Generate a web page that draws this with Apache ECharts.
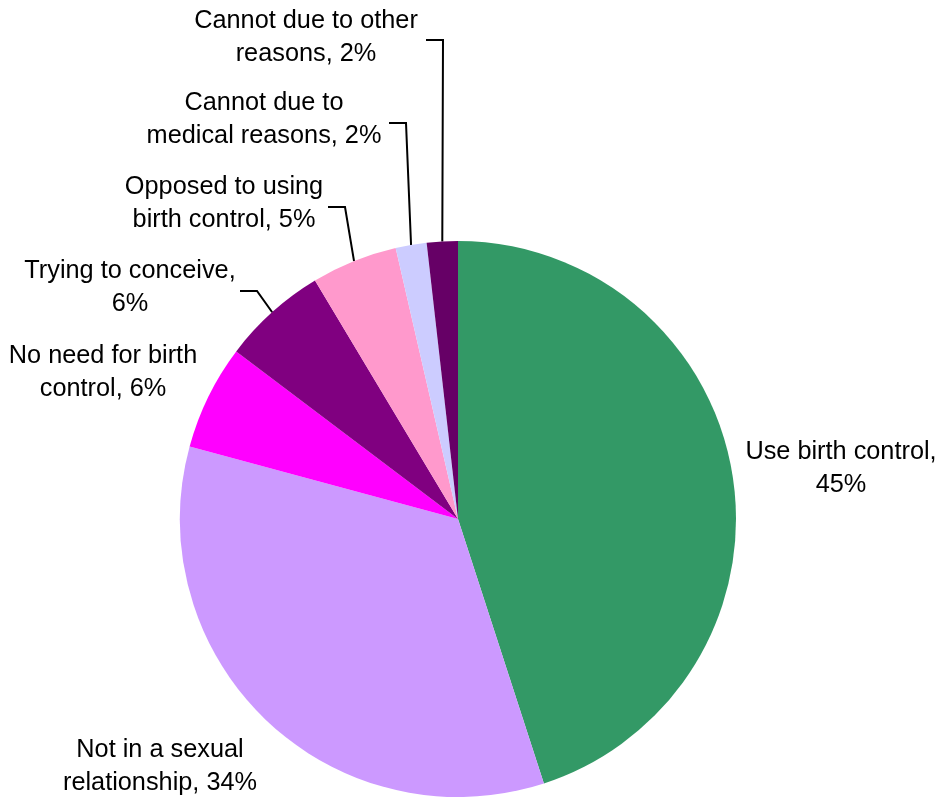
<!DOCTYPE html>
<html>
<head>
<meta charset="utf-8">
<script src="https://cdn.jsdelivr.net/npm/echarts@6/dist/echarts.min.js"></script>
<style>
html,body{margin:0;padding:0;background:#fff;}
#chart{width:940px;height:800px;}
</style>
</head>
<body>
<div id="chart"></div>
<script>
// Data
const categories = [
  'Use birth control',
  'Not in a sexual\nrelationship',
  'No need for birth\ncontrol',
  'Trying to conceive',
  'Opposed to using\nbirth control',
  'Cannot due to\nmedical reasons',
  'Cannot due to other\nreasons'
];
const values = [45.0, 34.2, 6.1, 6.1, 5.0, 1.8, 1.8];
const colors = ['#339966', '#CC99FF', '#FF00FF', '#800080', '#FF99CC', '#CCCCFF', '#660066'];

// Label placement (layout only)
const labelAnchor = [
  [841, 469], [160, 767], [103, 373], [130, 288], [224, 204], [264, 120], [306, 38]
];
const leaderElbow = [null, null, null, [257, 291], [345, 207], [406, 123], [443, 40]];
const leaderGap = 17;

const chart = echarts.init(document.getElementById('chart'), null, {renderer: 'canvas'});

const data = categories.map((name, i) => ({
  name: name,
  value: values[i],
  itemStyle: {color: colors[i]},
  labelLine: {show: !!leaderElbow[i]}
}));

chart.setOption({
  animation: false,
  backgroundColor: '#ffffff',
  series: [{
    type: 'pie',
    center: [458, 519],
    radius: 278,
    startAngle: 90,
    clockwise: true,
    avoidLabelOverlap: false,
    itemStyle: {borderWidth: 0},
    label: {
      show: true,
      position: 'outside',
      fontFamily: '"Liberation Sans", Arial, sans-serif',
      fontSize: 25.3,
      lineHeight: 33,
      color: '#000',
      align: 'center',
      formatter: function (p) {
        const pct = Math.round(p.percent) + '%';
        return p.name.indexOf('\n') >= 0 ? p.name + ', ' + pct : p.name + ',\n' + pct;
      }
    },
    labelLine: {
      lineStyle: {color: '#000', width: 2},
      smooth: false
    },
    labelLayout: function (params) {
      const i = params.dataIndex;
      const a = labelAnchor[i];
      const res = {x: a[0], y: a[1], align: 'center', verticalAlign: 'middle'};
      const e = leaderElbow[i];
      if (e && params.labelLinePoints && params.labelLinePoints[0]) {
        const s = params.labelLinePoints[0];
        res.labelLinePoints = [[s[0], s[1]], [e[0], e[1]], [e[0] - leaderGap, e[1]]];
      }
      return res;
    },
    data: data
  }]
});
</script>
</body>
</html>
